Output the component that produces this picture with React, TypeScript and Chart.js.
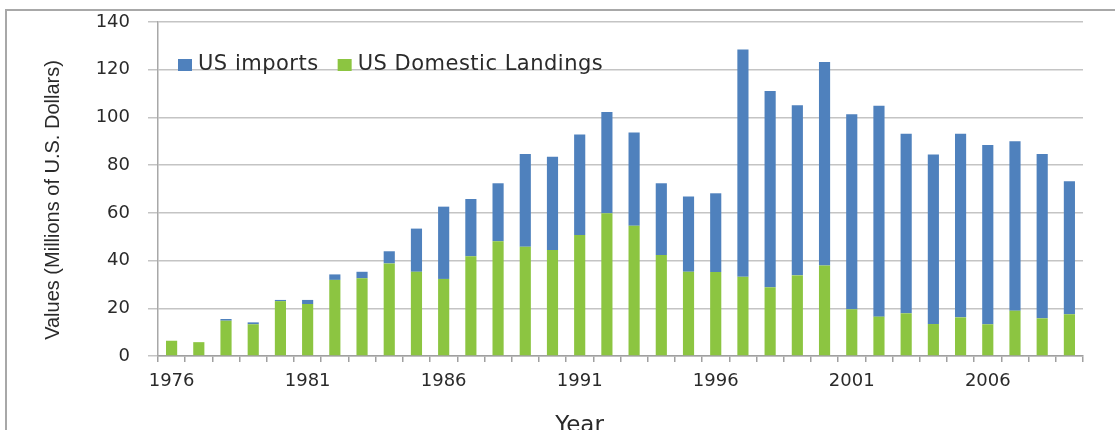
import React, { useEffect, useRef } from "react";
import { Chart, registerables } from "chart.js";

Chart.register(...registerables);

const years: string[] = [
  "1976", "1977", "1978", "1979", "1980", "1981", "1982", "1983", "1984", "1985",
  "1986", "1987", "1988", "1989", "1990", "1991", "1992", "1993", "1994", "1995",
  "1996", "1997", "1998", "1999", "2000", "2001", "2002", "2003", "2004", "2005",
  "2006", "2007", "2008", "2009",
];

const domesticLandings: number[] = [
  6.4, 5.8, 14.8, 13.3, 23.0, 21.8, 31.9, 32.6, 38.8, 35.3,
  32.3, 41.8, 48.1, 45.8, 44.4, 50.7, 59.8, 54.6, 42.3, 35.3,
  35.2, 33.2, 28.8, 33.8, 37.9, 19.6, 16.5, 17.9, 13.4, 16.2,
  13.3, 19.0, 15.8, 17.5,
];

const usImports: number[] = [
  0, 0, 0.7, 0.8, 0.5, 1.7, 2.3, 2.7, 5.1, 18.1,
  30.3, 24.0, 24.3, 38.9, 39.1, 42.1, 42.5, 39.1, 30.1, 31.6,
  33.0, 95.3, 82.3, 71.3, 85.3, 81.7, 88.4, 75.3, 71.1, 77.0,
  75.1, 71.0, 68.9, 55.7,
];

const yTicks: number[] = [0, 20, 40, 60, 80, 100, 120, 140];

const Y_TITLE = "Values (Millions of U.S. Dollars)";
const X_TITLE = "Year";

export default function App() {
  const canvasRef = useRef<HTMLCanvasElement | null>(null);

  useEffect(() => {
    const canvas = canvasRef.current;
    if (!canvas) return;

    const titlesPlugin = {
      id: "axisTitles",
      afterDraw(chart: any) {
        const { ctx, chartArea } = chart;
        ctx.save();
        ctx.fillStyle = "#2a2a2a";
        ctx.font = '20px "Liberation Sans"';
        ctx.textAlign = "center";
        ctx.textBaseline = "middle";
        ctx.translate(chartArea.left - 105, (chartArea.top + chartArea.bottom) / 2 + 11);
        ctx.rotate(-Math.PI / 2);
        ctx.fillText(Y_TITLE, 0, 0);
        ctx.restore();

        ctx.save();
        ctx.fillStyle = "#2a2a2a";
        ctx.font = '23px "DejaVu Sans"';
        ctx.textAlign = "center";
        ctx.textBaseline = "alphabetic";
        ctx.fillText(X_TITLE, (chartArea.left + chartArea.right) / 2 - 41, chartArea.bottom + 76);
        ctx.restore();
      },
    };

    const insideLegend = {
      id: "insideLegend",
      afterDatasetsDraw(chart: any) {
        const { ctx, chartArea } = chart;
        const items = chart.data.datasets
          .map((d: any) => ({ label: d.label as string, color: d.backgroundColor as string }))
          .reverse();
        ctx.save();
        ctx.font = '21px "DejaVu Sans"';
        (ctx as any).letterSpacing = "0.5px";
        ctx.textAlign = "left";
        ctx.textBaseline = "middle";
        let x = chartArea.left + 20;
        const cy = chartArea.top + 43;
        for (const it of items) {
          ctx.fillStyle = it.color;
          ctx.fillRect(x, cy - 6, 14, 12);
          x += 20;
          ctx.fillStyle = "#2a2a2a";
          ctx.fillText(it.label, x, cy);
          x += ctx.measureText(it.label).width + 19;
        }
        ctx.restore();
      },
    };

    const chart = new Chart(canvas, {
      type: "bar",
      data: {
        labels: years,
        datasets: [
          {
            label: "US Domestic Landings",
            data: domesticLandings,
            backgroundColor: "#8cc541",
            barPercentage: 0.41,
            categoryPercentage: 1,
          },
          {
            label: "US imports",
            data: usImports,
            backgroundColor: "#4f81bd",
            barPercentage: 0.41,
            categoryPercentage: 1,
          },
        ],
      },
      options: {
        responsive: false,
        animation: false,
        layout: { autoPadding: false, padding: { left: 0, top: 22, right: 32, bottom: 0 } },
        plugins: {
          tooltip: { enabled: false },
          legend: { display: false },
        },
        scales: {
          x: {
            stacked: true,
            afterFit: (scale: any) => {
              scale.height = 84;
            },
            grid: {
              drawOnChartArea: false,
              drawTicks: true,
              tickLength: 6,
              color: "#a0a0a0",
              lineWidth: 1.5,
            },
            border: { color: "#a0a0a0", width: 1.5 },
            ticks: {
              autoSkip: false,
              maxRotation: 0,
              minRotation: 0,
              padding: 9,
              color: "#2a2a2a",
              font: { family: "DejaVu Sans", size: 18 },
              callback: (_v: any, i: number) => (i % 5 === 0 ? years[i] : ""),
            },
          },
          y: {
            stacked: true,
            min: 0,
            max: 140,
            afterFit: (scale: any) => {
              scale.width = 158;
              scale.paddingTop = 0;
              scale.paddingBottom = 0;
            },
            afterBuildTicks: (scale: any) => {
              scale.ticks = yTicks.map((v) => ({ value: v }));
            },
            grid: {
              color: "#c4c4c4",
              lineWidth: 1.5,
              tickLength: 10,
            },
            border: { color: "#a8a8a8", width: 1.5 },
            ticks: {
              padding: 18,
              color: "#2a2a2a",
              font: { family: "DejaVu Sans", size: 18 },
            },
          },
        },
      },
      plugins: [titlesPlugin, insideLegend],
    });

    return () => {
      chart.destroy();
    };
  }, []);

  return (
    <div
      style={{
        position: "absolute",
        left: 0,
        top: 0,
        width: 1115,
        height: 430,
        overflow: "hidden",
        background: "#ffffff",
      }}
    >
      <canvas
        ref={canvasRef}
        width={1115}
        height={440}
        style={{ position: "absolute", left: 0, top: 0, width: 1115, height: 440 }}
      />
      <div
        style={{
          position: "absolute",
          left: 5,
          top: 9,
          width: 1200,
          height: 500,
          borderTop: "2px solid #a8a8a8",
          borderLeft: "2px solid #a8a8a8",
          pointerEvents: "none",
        }}
      />
    </div>
  );
}
